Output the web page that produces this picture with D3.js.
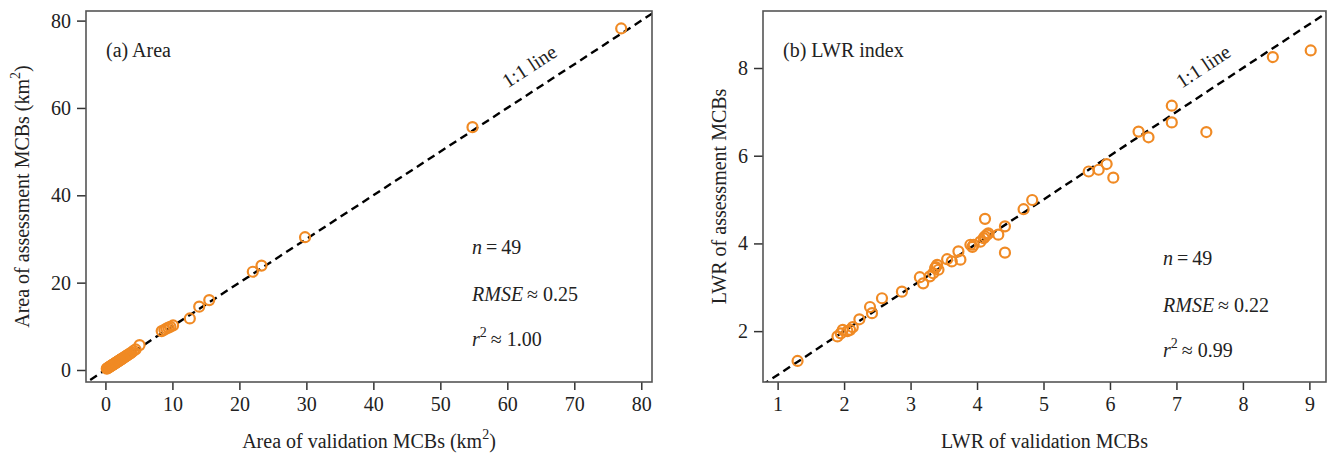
<!DOCTYPE html>
<html>
<head>
<meta charset="utf-8">
<script src="https://cdn.jsdelivr.net/npm/d3@7"></script>
<style>
  body { margin: 0; background: #fff; }
  text { font-family: "Liberation Serif", "Times New Roman", serif; fill: #222; }
</style>
</head>
<body>
<div id="chart"></div>
<script>
// panel (a) area, km2
var areaVal = [0.2, 0.3, 0.4, 0.5, 0.6, 0.7, 0.8, 0.9, 1.0, 1.1, 1.2, 1.3, 1.4, 1.5, 1.6, 1.7, 1.8, 1.9, 2.0, 2.1,
  2.2, 2.3, 2.4, 2.5, 2.6, 2.8, 3.0, 3.1, 3.3, 3.5, 3.7, 3.9, 4.2, 4.5, 5.1,
  8.4, 8.8, 9.1, 9.4, 9.7, 10.1, 12.6, 14.0, 15.5, 22.0, 23.3, 29.8, 54.8, 77.0];
var areaAss = [0.3, 0.4, 0.5, 0.6, 0.7, 0.8, 0.9, 1.0, 1.1, 1.2, 1.3, 1.4, 1.5, 1.6, 1.7, 1.8, 1.9, 2.0, 2.1, 2.2,
  2.3, 2.4, 2.5, 2.6, 2.7, 2.9, 3.1, 3.2, 3.4, 3.6, 3.8, 4.0, 4.4, 4.7, 5.7,
  8.9, 9.2, 9.5, 9.7, 9.9, 10.2, 11.8, 14.5, 16.0, 22.5, 23.9, 30.4, 55.6, 78.2];

// panel (b) LWR index
var lwrVal = [1.30, 1.90, 1.95, 1.98, 2.05, 2.09, 2.13, 2.23, 2.39, 2.42, 2.57, 2.87, 3.14, 3.19, 3.29, 3.34, 3.37,
  3.38, 3.40, 3.42, 3.55, 3.62, 3.72, 3.75, 3.90, 3.93, 3.95, 4.05, 4.10, 4.12, 4.12, 4.15, 4.17, 4.32, 4.42,
  4.42, 4.70, 4.83, 5.68, 5.83, 5.95, 6.05, 6.43, 6.58, 6.93, 6.93, 7.45, 8.45, 9.02];
var lwrAss = [1.32, 1.88, 1.95, 2.03, 2.00, 2.03, 2.09, 2.27, 2.55, 2.41, 2.75, 2.90, 3.23, 3.09, 3.25, 3.32, 3.44,
  3.46, 3.51, 3.40, 3.64, 3.59, 3.82, 3.63, 3.97, 3.92, 3.97, 4.04, 4.12, 4.16, 4.56, 4.20, 4.23, 4.20, 3.79,
  4.39, 4.78, 4.99, 5.64, 5.68, 5.81, 5.50, 6.55, 6.42, 7.14, 6.76, 6.54, 8.25, 8.40];

var areaTicks = [0, 10, 20, 30, 40, 50, 60, 70, 80];
var areaYTicks = [0, 20, 40, 60, 80];
var lwrXTicks = [1, 2, 3, 4, 5, 6, 7, 8, 9];
var lwrYTicks = [2, 4, 6, 8];

var W = 1333, H = 457;
var svg = d3.select("#chart").append("svg").attr("width", W).attr("height", H);
var orange = "#f08a24";
var fs = "20px", sup = "14px";

function panel(opt) {
  var x = d3.scaleLinear().domain(opt.xDom).range([opt.left, opt.right]);
  var y = d3.scaleLinear().domain(opt.yDom).range([opt.bottom, opt.top]);
  var g = svg.append("g");

  g.append("clipPath").attr("id", opt.id).append("rect")
    .attr("x", opt.left).attr("y", opt.top)
    .attr("width", opt.right - opt.left).attr("height", opt.bottom - opt.top);

  // 1:1 line
  g.append("line")
    .attr("clip-path", "url(#" + opt.id + ")")
    .attr("x1", x(opt.xDom[0] - 1)).attr("y1", y(opt.xDom[0] - 1))
    .attr("x2", x(opt.xDom[1] + 1)).attr("y2", y(opt.xDom[1] + 1))
    .attr("stroke", "#000").attr("stroke-width", 2.4).attr("stroke-dasharray", "8,5");

  g.selectAll("circle").data(opt.xs).enter().append("circle")
    .attr("cx", d => x(d))
    .attr("cy", (d, i) => y(opt.ys[i]))
    .attr("r", 5)
    .attr("fill", "none")
    .attr("stroke", orange)
    .attr("stroke-width", 2.2);

  // axes
  var xa = g.append("g").attr("transform", "translate(0," + opt.bottom + ")")
    .call(d3.axisBottom(x).tickValues(opt.xTicks).tickSize(8).tickPadding(7).tickFormat(d3.format("d")));
  var ya = g.append("g").attr("transform", "translate(" + opt.left + ",0)")
    .call(d3.axisLeft(y).tickValues(opt.yTicks).tickSize(9).tickPadding(6).tickFormat(d3.format("d")));
  [xa, ya].forEach(a => {
    a.select(".domain").remove();
    a.selectAll("line").attr("stroke", "#333").attr("stroke-width", 1.5);
    a.selectAll("text").style("font-family", "Liberation Serif").style("font-size", fs).attr("fill", "#222");
  });

  g.append("rect")
    .attr("x", opt.left).attr("y", opt.top)
    .attr("width", opt.right - opt.left).attr("height", opt.bottom - opt.top)
    .attr("fill", "none").attr("stroke", "#555").attr("stroke-width", 1.6);

  g.append("text").attr("x", opt.left + 20).attr("y", opt.top + 46)
    .style("font-size", fs).text(opt.label);

  // 1:1 label
  var ang = Math.atan2(y(opt.xDom[1]) - y(opt.xDom[0]), x(opt.xDom[1]) - x(opt.xDom[0])) * 180 / Math.PI;
  g.append("text")
    .attr("transform", "translate(" + opt.lineLab[0] + "," + opt.lineLab[1] + ") rotate(" + ang + ")")
    .attr("text-anchor", "middle").style("font-size", fs).text("1:1 line");

  // stats
  var s = g.append("g").style("font-size", fs);
  var t1 = s.append("text").attr("x", opt.stat[0]).attr("y", opt.stat[1]);
  t1.append("tspan").style("font-style", "italic").text("n");
  t1.append("tspan").text("\u2009=\u200949");
  var t2 = s.append("text").attr("x", opt.stat[0]).attr("y", opt.stat[1] + 47);
  t2.append("tspan").style("font-style", "italic").text("RMSE");
  t2.append("tspan").text("\u2009\u2248 " + opt.rmse);
  var t3 = s.append("text").attr("x", opt.stat[0]).attr("y", opt.stat[1] + 92);
  t3.append("tspan").style("font-style", "italic").text("r");
  t3.append("tspan").attr("dy", -9).style("font-size", sup).text("2");
  t3.append("tspan").attr("dy", 9).text("\u2009\u2248 " + opt.r2);

  // axis titles
  var xt = g.append("text").attr("x", (opt.left + opt.right) / 2).attr("y", 448)
    .attr("text-anchor", "middle").style("font-size", fs);
  xt.append("tspan").text(opt.xTitle);
  if (opt.km) {
    xt.append("tspan").attr("dy", -9).style("font-size", sup).text("2");
    xt.append("tspan").attr("dy", 9).text(")");
  }
  var yt = g.append("text")
    .attr("transform", "translate(" + opt.yTitleX + "," + ((opt.top + opt.bottom) / 2) + ") rotate(-90)")
    .attr("text-anchor", "middle").style("font-size", fs);
  yt.append("tspan").text(opt.yTitle);
  if (opt.km) {
    yt.append("tspan").attr("dy", -9).style("font-size", sup).text("2");
    yt.append("tspan").attr("dy", 9).text(")");
  }
}

panel({
  id: "clipA", left: 86, right: 652, top: 11, bottom: 382,
  xDom: [-2.9, 81.6], yDom: [-2.75, 82.2],
  xs: areaVal, ys: areaAss, xTicks: areaTicks, yTicks: areaYTicks,
  label: "(a) Area", lineLab: [533, 72], stat: [472, 254], rmse: "0.25", r2: "1.00",
  xTitle: "Area of validation MCBs (km", yTitle: "Area of assessment MCBs (km", km: true, yTitleX: 29
});

panel({
  id: "clipB", left: 763, right: 1326, top: 11, bottom: 382,
  xDom: [0.78, 9.25], yDom: [0.84, 9.3],
  xs: lwrVal, ys: lwrAss, xTicks: lwrXTicks, yTicks: lwrYTicks,
  label: "(b) LWR index", lineLab: [1207, 72], stat: [1163, 265], rmse: "0.22", r2: "0.99",
  xTitle: "LWR of validation MCBs", yTitle: "LWR of assessment MCBs", km: false, yTitleX: 726
});
</script>
</body>
</html>
